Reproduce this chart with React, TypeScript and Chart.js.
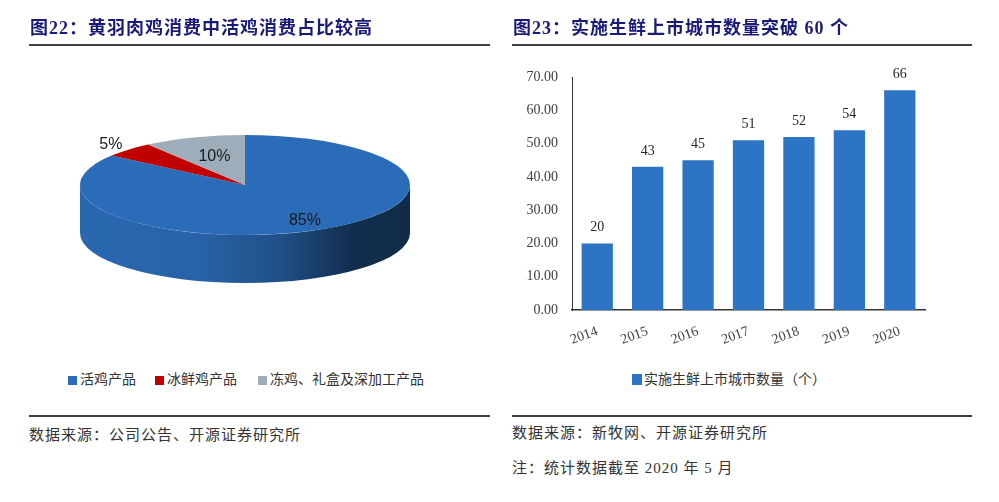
import React, { useEffect, useRef } from "react";
import { Chart, registerables } from "chart.js";
Chart.register(...registerables);

// ---- Left: pie data ----
const pieLabels = ["活鸡产品", "冰鲜鸡产品", "冻鸡、礼盒及深加工产品"];
const pieValues = [85, 5, 10];
const pieColors = ["#2b6cb8", "#c00000", "#9dadb9"];

// ---- Right: bar data ----
const barCategories = ["2014", "2015", "2016", "2017", "2018", "2019", "2020"];
const barValues = [20, 43, 45, 51, 52, 54, 66];
const barSeriesName = "实施生鲜上市城市数量（个）";
const barColor = "#2e74c5";
const yTicks = [0, 10, 20, 30, 40, 50, 60, 70];

const TITLE_LEFT = "图22：黄羽肉鸡消费中活鸡消费占比较高";
const TITLE_RIGHT = "图23：实施生鲜上市城市数量突破 60 个";
const SOURCE_LEFT = "数据来源：公司公告、开源证券研究所";
const SOURCE_RIGHT = "数据来源：新牧网、开源证券研究所";
const NOTE_RIGHT = "注：统计数据截至 2020 年 5 月";

const SERIF = '"Liberation Serif", "Noto Sans CJK SC", serif';
const SQUASH = 50 / 165;
const DEPTH = 48;

function shade(hex: string, f: number): string {
  const n = parseInt(hex.slice(1), 16);
  const r = Math.round(((n >> 16) & 255) * f);
  const g = Math.round(((n >> 8) & 255) * f);
  const b = Math.round((n & 255) * f);
  return `rgb(${r},${g},${b})`;
}

const pie3d = {
  id: "pie3d",
  beforeDatasetsDraw(chart: any) {
    const ctx = chart.ctx as CanvasRenderingContext2D;
    const meta = chart.getDatasetMeta(0);
    const a0 = meta.data[0] as any;
    const cx = a0.x, cy = a0.y, rx = a0.outerRadius, ry = rx * SQUASH;
    meta.data.forEach((arc: any, i: number) => {
      const s = arc.startAngle, e = arc.endAngle;
      const col = pieColors[i];
      const grad = ctx.createLinearGradient(cx - rx, 0, cx + rx, 0);
      grad.addColorStop(0, shade(col, 0.95));
      grad.addColorStop(0.35, shade(col, 0.92));
      grad.addColorStop(0.6, shade(col, 0.74));
      grad.addColorStop(0.83, shade(col, 0.42));
      grad.addColorStop(1, shade(col, 0.4));
      for (const off of [-2 * Math.PI, 0, 2 * Math.PI]) {
        const lo = Math.max(s, off), hi = Math.min(e, off + Math.PI);
        if (hi > lo) {
          ctx.beginPath();
          ctx.ellipse(cx, cy, rx, ry, 0, lo, hi, false);
          ctx.ellipse(cx, cy + DEPTH, rx, ry, 0, hi, lo, true);
          ctx.closePath();
          ctx.fillStyle = grad;
          ctx.fill();
        }
      }
    });
    ctx.save();
    ctx.translate(cx, cy);
    ctx.scale(1, SQUASH);
    ctx.translate(-cx, -cy);
  },
  afterDatasetsDraw(chart: any) {
    const ctx = chart.ctx as CanvasRenderingContext2D;
    ctx.restore();
    const meta = chart.getDatasetMeta(0);
    const total = pieValues.reduce((a, b) => a + b, 0);
    ctx.save();
    ctx.font = '16px "Liberation Sans Narrow", "Liberation Sans", sans-serif';
    ctx.fillStyle = "#1a1a1a";
    ctx.textAlign = "center";
    ctx.textBaseline = "middle";
    meta.data.forEach((arc: any, i: number) => {
      const pct = pieValues[i] / total;
      const mid = (arc.startAngle + arc.endAngle) / 2;
      const f = pct < 0.08 ? 1.15 : pct > 0.5 ? 0.8 : 0.6;
      const rx = arc.outerRadius, ry = rx * SQUASH;
      const x = arc.x + Math.cos(mid) * rx * f;
      const y = arc.y + Math.sin(mid) * ry * f;
      ctx.fillText(Math.round(pct * 100) + "%", x, y);
    });
    ctx.restore();
  },
};

const valueLabels = {
  id: "valueLabels",
  afterDatasetsDraw(chart: any) {
    const ctx = chart.ctx as CanvasRenderingContext2D;
    const meta = chart.getDatasetMeta(0);
    ctx.save();
    ctx.font = '14px "Liberation Serif", serif';
    ctx.fillStyle = "#262626";
    ctx.textAlign = "center";
    ctx.textBaseline = "bottom";
    meta.data.forEach((bar: any, i: number) => {
      ctx.fillText(String(barValues[i]), bar.x, bar.y - 9);
    });
    ctx.restore();
  },
};

function PieChart() {
  const ref = useRef<HTMLCanvasElement>(null);
  useEffect(() => {
    const chart = new Chart(ref.current!, {
      type: "pie",
      data: {
        labels: pieLabels,
        datasets: [{ data: pieValues, backgroundColor: pieColors, borderWidth: 0, clip: false } as any],
      },
      options: {
        animation: false,
        responsive: false,
        layout: { padding: 0 },
        plugins: { legend: { display: false }, tooltip: { enabled: false } },
      },
      plugins: [pie3d],
    });
    return () => chart.destroy();
  }, []);
  return (
    <canvas ref={ref} width={490} height={330}
      style={{ position: "absolute", left: 0, top: 20, width: 490, height: 330 }} />
  );
}

function BarChart() {
  const ref = useRef<HTMLCanvasElement>(null);
  useEffect(() => {
    const chart = new Chart(ref.current!, {
      type: "bar",
      data: {
        labels: barCategories,
        datasets: [{
          label: barSeriesName, data: barValues, backgroundColor: barColor,
          barPercentage: 0.62, categoryPercentage: 1,
        }],
      },
      options: {
        animation: false,
        responsive: false,
        layout: { padding: { top: 27, right: 55, left: 0, bottom: 0 } },
        plugins: { legend: { display: false }, tooltip: { enabled: false } },
        scales: {
          x: {
            grid: { display: false, drawTicks: false },
            border: { display: true, color: "#333333", width: 1.5 },
            ticks: {
              color: "#404040", font: { family: "Liberation Serif", size: 14 },
              minRotation: 20, maxRotation: 20, padding: 13, autoSkip: false,
            },
            afterFit: (s: any) => { s.height = 50; },
          },
          y: {
            min: 0, max: 70,
            grid: { display: false, drawTicks: false },
            border: { display: true, color: "#333333", width: 1 },
            ticks: {
              color: "#404040", font: { family: "Liberation Serif", size: 14 },
              padding: 14,
              callback: (v: any) => Number(v).toFixed(2),
            },
            afterBuildTicks: (s: any) => { s.ticks = yTicks.map((v) => ({ value: v })); },
            afterFit: (s: any) => { s.width = 72; },
          },
        },
      } as any,
      plugins: [valueLabels],
    });
    return () => chart.destroy();
  }, []);
  return (
    <canvas ref={ref} width={480} height={310}
      style={{ position: "absolute", left: 500, top: 50, width: 480, height: 310 }} />
  );
}

const abs = (l: number, t: number, extra: any = {}) => ({ position: "absolute" as const, left: l, top: t, ...extra });

export default function App() {
  const titleStyle = {
    fontFamily: SERIF, fontWeight: 700, fontSize: 18, lineHeight: "20px",
    color: "#1a1a78", letterSpacing: 1, whiteSpace: "nowrap" as const,
  };
  const srcStyle = {
    fontFamily: SERIF, fontSize: 15, lineHeight: "18px", color: "#333",
    letterSpacing: 1, whiteSpace: "nowrap" as const,
  };
  const legStyle = {
    fontFamily: SERIF, fontSize: 14, lineHeight: "16px", color: "#333",
    whiteSpace: "nowrap" as const,
  };
  const legX = [68, 155, 258];
  return (
    <div style={{ position: "fixed", left: 0, top: 0, width: 999, height: 502, background: "#fff", overflow: "hidden" }}>
      <PieChart />
      <BarChart />
      <div style={{ ...abs(30, 18), ...titleStyle }}>{TITLE_LEFT}</div>
      <div style={{ ...abs(513, 18), ...titleStyle }}>{TITLE_RIGHT}</div>
      <div style={abs(29, 44, { width: 461, height: 2, background: "#404040" })} />
      <div style={abs(512, 44, { width: 460, height: 2, background: "#404040" })} />
      {pieLabels.map((lab, i) => (
        <React.Fragment key={lab}>
          <div style={abs(legX[i], 376, { width: 9, height: 9, background: pieColors[i] })} />
          <div style={{ ...abs(legX[i] + 12, 372), ...legStyle }}>{lab}</div>
        </React.Fragment>
      ))}
      <div style={abs(632, 374, { width: 10, height: 11, background: barColor })} />
      <div style={{ ...abs(644, 372), ...legStyle }}>{barSeriesName}</div>
      <div style={abs(29, 415, { width: 461, height: 2, background: "#404040" })} />
      <div style={abs(512, 415, { width: 460, height: 2, background: "#404040" })} />
      <div style={{ ...abs(29, 426), ...srcStyle }}>{SOURCE_LEFT}</div>
      <div style={{ ...abs(512, 424), ...srcStyle }}>{SOURCE_RIGHT}</div>
      <div style={{ ...abs(512, 459), ...srcStyle }}>{NOTE_RIGHT}</div>
    </div>
  );
}
